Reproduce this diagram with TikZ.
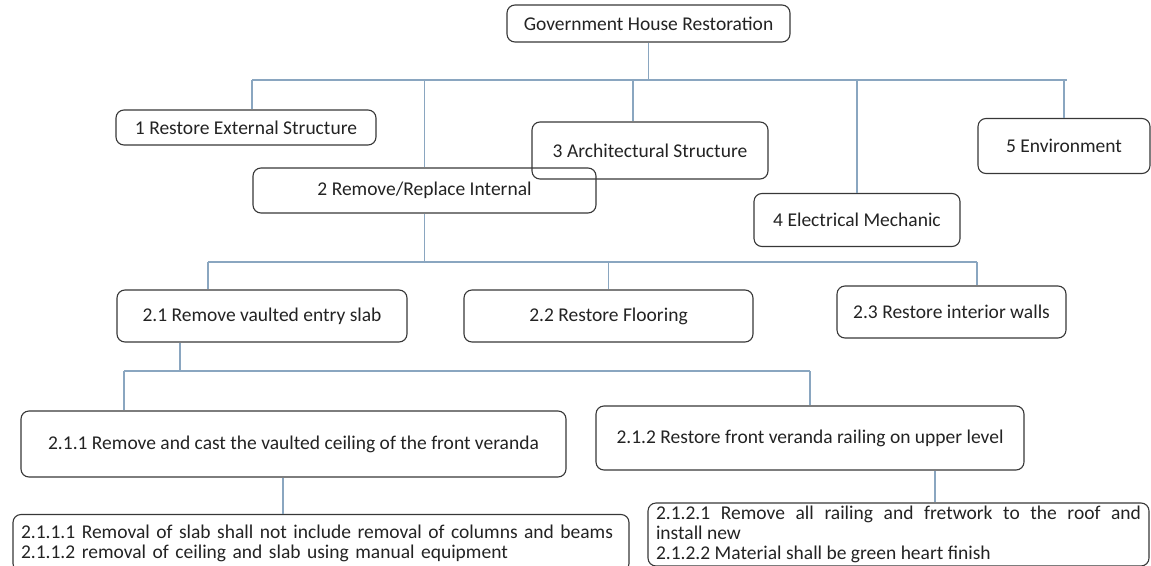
\documentclass[tikz,border=0pt]{standalone}
\usepackage{fontspec}
\setmainfont{Carlito}
\usetikzlibrary{positioning}
\definecolor{linkblue}{RGB}{138,166,192}
\definecolor{boxline}{RGB}{55,55,55}
\definecolor{inkgray}{RGB}{35,35,35}
\tikzstyle{task} = [rectangle, rounded corners=8pt, text centered, draw=boxline, line width=1.1pt, text=inkgray, inner sep=0pt, font=\fontsize{19.5}{20}\selectfont]
\tikzstyle{leaf} = [task, align=left, inner xsep=8pt]
\tikzstyle{branch} = [linkblue, line width=1.1pt]

\begin{document}
\begin{tikzpicture}[x=1pt, y=-1pt]

    \useasboundingbox (0,0) rectangle (1151,565);

    % level 0 and 1
    \node (root) [task, minimum width=283, minimum height=37] at (648.5,23.5) {Government House Restoration};
    \node (ext) [task, minimum width=260, minimum height=35] at (246,127.5) {1 Restore External Structure};
    \node (int) [task, minimum width=343, minimum height=45] at (424.5,190.5) {2 Remove/Replace Internal};
    \node (arch) [task, minimum width=236, minimum height=57] at (650,150.5) {3 Architectural Structure};
    \node (elec) [task, minimum width=206, minimum height=53] at (857,220) {4 Electrical Mechanic};
    \node (env) [task, minimum width=172, minimum height=55] at (1064,146) {5 Environment};

    % level 2
    \node (slab) [task, minimum width=290, minimum height=52] at (262,316) {2.1 Remove vaulted entry slab};
    \node (floor) [task, minimum width=289, minimum height=52] at (608.5,316) {2.2 Restore Flooring};
    \node (walls) [task, minimum width=229, minimum height=52] at (951.5,312) {2.3 Restore interior walls};

    % level 3
    \node (ceiling) [task, minimum width=545, minimum height=66] at (293.5,444) {2.1.1 Remove and cast the vaulted ceiling of the front veranda};
    \node (railing) [task, minimum width=428, minimum height=64] at (810,438) {2.1.2 Restore front veranda railing on upper level};

    % level 4
    \node (ceilingsteps) [leaf, text width=600, minimum height=57] at (321,543)
        {\raggedright 2.1.1.1 Removal of slab shall not include removal of columns and beams\\
         2.1.1.2 removal of ceiling and slab using manual equipment};
    \node (railingsteps) [leaf, text width=485, minimum height=63, align=justify] at (898.5,534.5)
        {2.1.2.1 Remove all railing and fretwork to the roof and\linebreak install new\\
         2.1.2.2 Material shall be green heart finish};

    % bus lines
    \coordinate (busa) at (252,80);
    \coordinate (busb) at (1067,80);
    \coordinate (busc) at (208,262);
    \coordinate (busd) at (977,262);
    \coordinate (buse) at (124,371);
    \coordinate (drop0) at (633,80);
    \coordinate (drop1) at (180,371);
    \coordinate (drop2) at (283,495);
    \coordinate (drop3) at (935,487);

    \draw [branch] (root) -- (root |- busa);
    \draw [branch] (busa) -- (busb);
    \draw [branch] (busa) -- (busa |- ext.north);
    \draw [branch] (int |- busa) -- (int);
    \draw [branch] (drop0) -- (drop0 |- arch.north);
    \draw [branch] (elec |- busa) -- (elec);
    \draw [branch] (env |- busa) -- (env);

    \draw [branch] (int) -- (int |- busc);
    \draw [branch] (busc) -- (busd);
    \draw [branch] (busc) -- (busc |- slab.north);
    \draw [branch] (floor |- busc) -- (floor);
    \draw [branch] (busd) -- (busd |- walls.north);

    \draw [branch] (drop1 |- slab.south) -- (drop1);
    \draw [branch] (buse) -- (railing |- buse);
    \draw [branch] (buse) -- (buse |- ceiling.north);
    \draw [branch] (railing |- buse) -- (railing);

    \draw [branch] (drop2 |- ceiling.south) -- (drop2 |- ceilingsteps.north);
    \draw [branch] (drop3 |- railing.south) -- (drop3 |- railingsteps.north);

\end{tikzpicture}
\end{document}
